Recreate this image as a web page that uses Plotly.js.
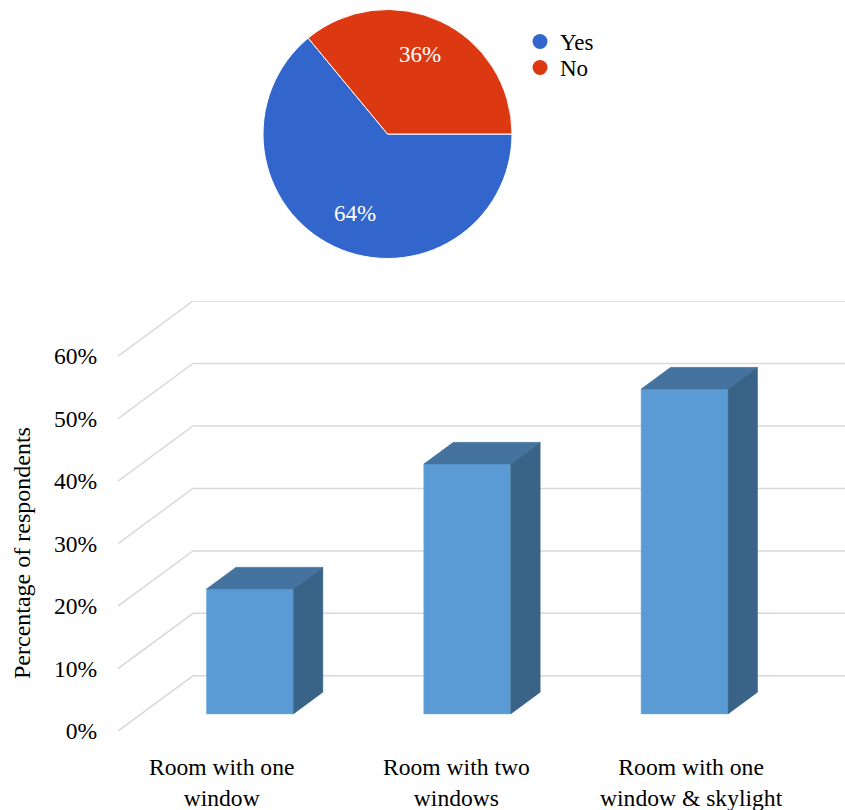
<!DOCTYPE html>
<html>
<head>
<meta charset="utf-8">
<script src="https://cdn.plot.ly/plotly-3.0.1.min.js"></script>
<style>html,body{margin:0;padding:0;background:#fff;}#chart{width:845px;height:810px;}</style>
</head>
<body>
<div id="chart"></div>
<script>
// ---- data ----
var pieLabels = ['Yes', 'No'];
var pieValues = [64, 36];
var pieColors = ['#3366CC', '#DC3912'];

var categories = ['Room with one<br>window', 'Room with two<br>windows', 'Room with one<br>window & skylight'];
var barValues = [20, 40, 52];
var yTickVals = [0, 10, 20, 30, 40, 50, 60];
var yTickText = ['0%', '10%', '20%', '30%', '40%', '50%', '60%'];

// ---- 3D oblique geometry (in axis units) ----
var DX = 0.345, DY = 8.83;      // full depth offset
var F0 = 0.31, F1 = 0.703;      // bar front / back depth fraction
var W = 0.4;                    // bar width
var FONT = 'Liberation Serif, Times New Roman, serif';
var PW = 845, PH = 810;

// pie placement (pixels)
var PIE_CX = 387.5, PIE_CY = 134, PIE_R = 124.5, PIE_START = 0; // start angle (deg, math), clockwise
var LABEL_R = 0.69;

var traces = [];

traces.push({
  type: 'pie', labels: pieLabels, values: pieValues, sort: false,
  direction: 'clockwise', rotation: 90 - PIE_START,
  marker: {colors: pieColors, line: {color: '#ffffff', width: 1}},
  textinfo: 'none',
  domain: {x: [(PIE_CX - PIE_R) / PW, (PIE_CX + PIE_R) / PW],
           y: [(PH - PIE_CY - PIE_R) / PH, (PH - PIE_CY + PIE_R) / PH]},
  showlegend: false, hoverinfo: 'label+percent'
});

// percentage labels placed at each slice's mid-angle
var total = pieValues.reduce(function (a, b) { return a + b; }, 0);
var acc = 0;
var pieAnnotations = pieValues.map(function (v) {
  var midFrac = (acc + v / 2) / total;
  acc += v;
  var ang = (PIE_START - midFrac * 360 + 3) * Math.PI / 180;
  var px = PIE_CX + LABEL_R * PIE_R * Math.cos(ang);
  var py = PIE_CY - LABEL_R * PIE_R * Math.sin(ang);
  return {text: Math.round(100 * v / total) + '%', xref: 'paper', yref: 'paper',
    x: px / PW, y: (PH - py) / PH, xanchor: 'center', yanchor: 'middle', showarrow: false,
    font: {family: FONT, size: 23, color: '#ffffff'}};
});

// legend entries (circles), one legend box per entry
pieLabels.forEach(function (lab, i) {
  traces.push({type: 'scatter', mode: 'markers', x: [null], y: [null], name: lab,
    legend: i === 0 ? 'legend' : 'legend2',
    marker: {symbol: 'circle', size: 15, color: pieColors[i]}, showlegend: true, hoverinfo: 'skip'});
});

// gridlines as shapes
var shapes = yTickVals.map(function (v) {
  var x0 = -0.5, x1 = -0.5 + DX, x2 = 2.5 + DX;
  return {type: 'path', xref: 'x', yref: 'y', layer: 'below',
    path: 'M ' + x0 + ',' + v + ' L ' + x1 + ',' + (v + DY) + ' L ' + x2 + ',' + (v + DY),
    line: {color: '#d9d9d9', width: 1.5}};
});

// front faces
var idx = categories.map(function (c, i) { return i; });
traces.push({
  type: 'bar', x: idx.map(function (i) { return i + F0 * DX; }), y: barValues,
  base: barValues.map(function () { return F0 * DY; }), width: W,
  marker: {color: '#5B9BD5', line: {color: '#6aa6dc', width: 0.5}},
  showlegend: false, hoverinfo: 'skip'
});

// top and side faces
barValues.forEach(function (v, i) {
  var xl0 = i + F0 * DX - W / 2, xr0 = i + F0 * DX + W / 2;
  var xl1 = i + F1 * DX - W / 2, xr1 = i + F1 * DX + W / 2;
  var b0 = F0 * DY, b1 = F1 * DY;
  traces.push({type: 'scatter', mode: 'lines', fill: 'toself', fillcolor: '#44739f',
    line: {color: '#44739f', width: 0.5},
    x: [xl0, xr0, xr1, xl1, xl0], y: [b0 + v, b0 + v, b1 + v, b1 + v, b0 + v],
    showlegend: false, hoverinfo: 'skip'});
  traces.push({type: 'scatter', mode: 'lines', fill: 'toself', fillcolor: '#3a6487',
    line: {color: '#3a6487', width: 0.5},
    x: [xr0, xr0, xr1, xr1, xr0], y: [b0, b0 + v, b1 + v, b1, b0],
    showlegend: false, hoverinfo: 'skip'});
});

var legendBase = {x: 520/845, xanchor: 'left', yanchor: 'top',
  font: {family: FONT, size: 23, color: '#000'}, bgcolor: 'rgba(0,0,0,0)', itemclick: false};

var layout = {
  width: PW, height: PH,
  margin: {l: 0, r: 0, t: 0, b: 0},
  paper_bgcolor: '#ffffff', plot_bgcolor: 'rgba(0,0,0,0)',
  font: {family: FONT, size: 23, color: '#000000'},
  showlegend: true,
  legend: Object.assign({}, legendBase, {y: (810 - 20) / 810}),
  legend2: Object.assign({}, legendBase, {y: (810 - 46) / 810}),
  xaxis: {domain: [118/845, 1], range: [-0.5, 2.5 + DX], showgrid: false, zeroline: false,
    showline: false, tickmode: 'array',
    tickvals: idx.map(function (i) { return -0.023 + i * 1.08; }), ticktext: categories,
    ticks: 'outside', ticklen: 15, tickcolor: 'rgba(0,0,0,0)',
    tickfont: {family: FONT, size: 23.6, color: '#000'}, fixedrange: true},
  yaxis: {domain: [(810-731)/810, (810-301)/810], range: [0, 60 + DY], showgrid: false,
    zeroline: false, showline: false, tickmode: 'array', tickvals: yTickVals, ticktext: yTickText,
    ticks: 'outside', ticklen: 15, tickcolor: 'rgba(0,0,0,0)',
    tickfont: {family: FONT, size: 23.6, color: '#000'}, fixedrange: true},
  annotations: [{text: 'Percentage of respondents', xref: 'paper', yref: 'paper',
    x: 22/845, y: (810-553)/810, xanchor: 'center', yanchor: 'middle', textangle: -90,
    showarrow: false, font: {family: FONT, size: 24, color: '#000'}}].concat(pieAnnotations),
  shapes: shapes
};

Plotly.newPlot('chart', traces, layout, {displayModeBar: false, staticPlot: true});
</script>
</body>
</html>
